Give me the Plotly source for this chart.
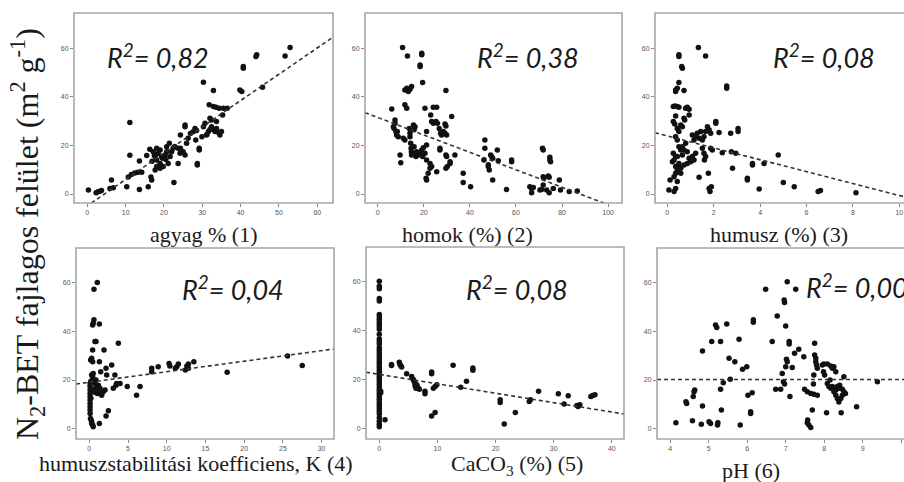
import plotly.graph_objects as go

W, H = 904, 482

# ---------------- data ----------------
agyag_x = [0.3, 2.3, 2.8, 3.3, 3.7, 6.3, 5.9, 6.8, 10.3, 11.1, 11.1, 10.7, 11.5, 12.4, 13.2, 14.2,
           13.6, 13.6, 15.9, 16.8, 16.6, 16.3, 17.2, 18.1, 18.5, 19.0, 17.7, 18.1, 19.0, 18.1, 17.7,
           19.0, 19.8, 19.4, 20.3, 20.7, 21.1, 21.6, 20.7, 22.0, 22.4, 21.4, 22.6, 23.7, 24.2, 24.3,
           25.0, 25.5, 23.7, 24.3, 25.5, 25.5, 26.3, 25.9, 28.1, 28.5, 28.7, 28.7, 29.2, 29.2, 28.3,
           30.3, 30.3, 30.7, 29.9, 31.1, 31.6, 32.0, 32.0, 32.4, 32.9, 31.8, 32.9, 33.6, 34.4, 35.5,
           32.4, 32.9, 33.3, 33.7, 34.2, 34.6, 35.0, 33.7, 35.3, 36.5, 40.3, 39.8, 40.7, 40.7, 44.2,
           44.0, 45.7, 51.6, 52.9, 15.5, 16.9, 17.5, 19.6, 20.5, 22.8, 26.9, 27.6, 31.2]
agyag_y = [1.6, 0.5, 0.9, 1.1, 1.4, 5.8, 2.3, 2.6, 3.0, 29.4, 16.0, 7.0, 8.0, 8.6, 9.0, 9.0,
           1.9, 13.6, 3.0, 5.8, 7.0, 18.4, 17.4, 18.8, 16.7, 18.1, 15.4, 14.0, 12.6, 11.3, 9.9,
           10.6, 11.3, 15.4, 16.1, 19.5, 12.6, 15.4, 17.4, 17.4, 18.8, 20.9, 4.7, 18.8, 16.8, 18.8,
           17.4, 16.1, 12.6, 24.3, 28.4, 27.7, 22.9, 20.9, 27.0, 26.1, 12.6, 11.9, 18.8, 18.1, 22.2,
           46.0, 27.7, 29.1, 23.6, 24.3, 25.7, 26.6, 31.2, 30.5, 42.6, 36.7, 36.0, 35.7, 35.3, 35.3,
           27.7, 26.4, 25.7, 27.0, 25.3, 24.3, 25.7, 29.8, 32.5, 35.3, 42.2, 42.8, 52.5, 51.8, 57.3,
           56.6, 43.9, 56.8, 60.3, 15.8, 13.5, 16.0, 14.7, 14.2, 19.6, 24.9, 25.6, 24.5]

homok_x = [6.1, 6.8, 7.5, 7.1, 7.9, 8.2, 8.5, 8.9, 7.5, 9.7, 10.0, 10.8, 11.1, 11.8, 11.8, 12.6,
           11.8, 12.6, 12.9, 13.3, 14.0, 14.7, 13.7, 14.0, 14.3, 14.5, 14.6, 14.7, 14.0, 15.5, 15.8,
           16.2, 16.2, 16.6, 15.8, 16.9, 17.6, 18.4, 19.1, 19.5, 20.5, 19.8, 21.2, 18.4, 18.4, 19.1,
           19.1, 19.5, 21.2, 20.5, 21.2, 21.0, 21.2, 21.9, 22.7, 23.4, 22.7, 23.0, 23.4, 24.1, 24.1,
           25.6, 25.3, 25.9, 25.6, 26.7, 27.0, 27.0, 27.3, 27.7, 28.5, 29.2, 29.6, 29.6, 29.2, 29.9,
           29.6, 29.9, 29.6, 30.2, 31.4, 31.4, 32.1, 33.5, 37.1, 37.1, 40.3, 46.1, 46.5, 46.5, 48.0,
           48.4, 48.0, 49.0, 49.4, 49.9, 49.9, 51.9, 52.3, 55.9, 58.1, 58.1, 66.0, 66.8, 67.5, 66.8,
           70.4, 71.1, 71.8, 71.8, 72.1, 71.5, 71.8, 73.3, 74.0, 74.4, 74.7, 74.7, 75.0, 74.4, 76.2,
           78.8, 79.3, 83.1, 86.6]
homok_y = [35.0, 27.7, 29.1, 27.0, 25.7, 24.3, 25.7, 23.6, 30.5, 16.1, 12.9, 60.3, 22.9, 22.2, 36.7, 35.3,
           42.8, 43.5, 56.8, 42.2, 43.1, 44.2, 27.0, 25.0, 20.9, 18.8, 17.4, 16.1, 23.6, 28.4, 26.4,
           27.7, 16.8, 15.4, 19.5, 17.4, 16.1, 16.8, 18.1, 15.4, 16.8, 19.0, 14.0, 52.5, 53.1, 57.3,
           57.9, 45.9, 20.2, 35.3, 25.7, 6.5, 5.8, 8.5, 12.6, 11.3, 10.6, 32.5, 29.8, 29.1, 35.7,
           35.7, 29.8, 29.1, 9.2, 27.0, 18.8, 18.1, 25.0, 24.3, 25.7, 28.8, 28.0, 42.6, 25.0, 24.3,
           16.1, 15.4, 10.6, 11.3, 12.6, 13.3, 31.9, 16.1, 8.5, 4.7, 3.0, 14.0, 22.2, 18.8, 11.3,
           9.9, 12.0, 16.1, 15.4, 14.7, 5.8, 18.1, 13.7, 1.9, 13.3, 14.0, 3.0, 2.3, 2.7, 0.5,
           1.6, 1.9, 3.7, 7.1, 6.5, 18.8, 18.1, 1.6, 7.4, 6.9, 15.1, 14.0, 13.3, 0.5, 2.3,
           5.8, 1.6, 1.0, 1.2]

humusz_x = [0.12, 0.07, 0.22, 0.29, 0.36, 0.26, 0.26, 0.33, 0.43, 0.50, 0.36, 0.36, 0.43, 0.50, 0.36,
            0.50, 0.50, 0.62, 0.65, 0.72, 0.26, 0.32, 0.43, 0.50, 0.58, 0.65, 0.72, 0.75, 0.79, 0.86,
            0.94, 0.94, 0.36, 0.43, 0.50, 0.58, 0.65, 0.43, 0.50, 0.36, 0.43, 0.36, 0.29, 0.50, 0.58,
            0.65, 0.72, 0.79, 0.86, 0.94, 1.01, 1.08, 1.15, 1.22, 0.86, 0.72, 0.58, 0.43, 0.36, 0.29,
            1.08, 1.15, 1.22, 1.29, 1.37, 1.44, 1.51, 1.34, 1.37, 1.65, 1.51, 1.58, 1.65, 1.60, 1.58,
            1.65, 1.73, 1.80, 1.87, 1.77, 1.80, 1.84, 1.90, 1.87, 1.94, 2.09, 2.09, 2.23, 2.37, 2.56,
            2.56, 2.73, 2.76, 2.81, 2.95, 3.05, 3.05, 3.45, 3.45, 3.67, 3.67, 3.96, 4.17, 4.78, 5.00,
            5.47, 6.50, 6.60, 8.13]
humusz_y = [5.8, 1.6, 13.3, 14.0, 15.4, 16.8, 36.0, 36.2, 36.0, 35.7, 32.1, 42.8, 43.5, 45.9, 42.2,
            57.3, 56.6, 52.5, 51.8, 42.6, 29.8, 28.8, 27.0, 25.7, 28.4, 27.7, 31.2, 30.5, 35.3, 35.7,
            34.9, 32.5, 23.6, 22.2, 19.5, 18.1, 16.1, 15.4, 11.3, 11.3, 9.9, 8.5, 7.1, 12.6, 10.6,
            19.5, 18.1, 20.9, 17.4, 14.7, 13.3, 15.4, 14.0, 16.8, 12.6, 11.9, 8.5, 5.1, 2.3, 1.0,
            24.3, 22.2, 23.6, 25.0, 22.9, 25.7, 22.2, 60.3, 6.9, 56.8, 18.8, 16.8, 15.4, 14.0, 23.6,
            25.7, 27.7, 26.4, 25.0, 8.5, 2.3, 1.0, 3.0, 18.8, 18.1, 29.8, 29.1, 25.3, 17.0, 44.5,
            43.5, 25.0, 17.4, 10.6, 16.8, 27.0, 25.7, 6.5, 5.8, 12.6, 11.9, 2.1, 12.6, 16.1, 4.7,
            3.0, 1.0, 1.4, 0.5]

hstab_x = [0.1, 0.1, 0.1, 0.1, 0.1, 0.1, 0.1, 0.1, 0.1, 0.1, 0.15, 0.3, 0.43, 0.5, 0.3,
           0.17, 0.3, 0.43, 0.43, 0.5, 0.6, 0.43, 0.6, 1.03, 1.3, 0.73, 0.86, 0.3, 0.43, 0.5,
           0.73, 0.95, 1.16, 1.38, 0.5, 0.86, 1.03, 1.3, 1.6, 1.8, 1.3, 1.47, 1.3, 1.9, 2.03,
           2.16, 2.24, 2.16, 2.46, 2.89, 3.1, 3.3, 3.45, 3.53, 3.75, 3.97, 4.9, 6.1, 6.55, 8.06,
           8.06, 8.9, 10.3, 10.4, 11.1, 11.3, 11.5, 12.4, 12.6, 12.8, 12.8, 13.5, 17.8, 25.6, 27.5,
           0.2, 0.2, 0.2, 0.25, 0.6, 0.7, 0.9]
hstab_y = [18.6, 17.3, 15.9, 14.5, 13.2, 11.8, 10.4, 9.0, 7.7, 6.3, 4.2, 2.9, 1.5, 0.8, 2.2,
           28.2, 28.9, 27.5, 32.3, 43.3, 44.7, 42.6, 57.3, 60.0, 43.0, 35.8, 35.8, 22.1, 21.4, 20.0,
           18.6, 17.3, 17.9, 16.6, 22.7, 20.0, 14.5, 14.5, 13.8, 15.2, 27.5, 23.4, 2.2, 32.3, 15.9,
           24.8, 22.1, 5.2, 7.4, 26.2, 16.6, 22.1, 17.9, 18.6, 35.1, 18.6, 17.3, 13.8, 17.3, 24.8,
           23.4, 25.5, 26.8, 25.8, 24.8, 25.5, 26.6, 24.1, 25.8, 26.6, 24.8, 27.5, 23.2, 29.9, 26.0,
           19.5, 16.5, 12.5, 3.5, 16.2, 15.0, 16.0]

caco3_x = [0.0] * 48 + [0.23, 0.23, 0.98, 2.1, 2.1, 3.44, 3.56, 3.67, 3.84, 4.7, 5.56, 5.85, 5.97,
                        6.14, 6.43, 6.54, 6.7, 6.3, 6.9, 6.14, 7.86, 7.86, 9.0, 9.6, 9.0, 9.0, 9.3,
                        9.6, 9.9, 12.7, 14.0, 15.0, 16.1, 16.1, 20.8, 20.8, 21.5, 23.4, 25.8, 26.0,
                        27.4, 30.8, 31.8, 32.5, 34.0, 34.2, 34.5, 36.4, 36.7, 37.1]
caco3_y = [60, 58, 57, 53, 52, 46.5, 45.5, 44.5, 43.5, 42.5, 41.5, 40.5, 38.5, 36.5, 35.5, 34.5,
           33, 32, 31, 30, 29, 28, 27, 26, 25, 24, 23, 22, 21, 20, 19, 18, 17, 16, 15, 14, 13, 12,
           11, 10, 9, 8, 7, 6, 4.5, 3, 1.8, 0.8] + [15.2, 14.5, 3.6, 26.1, 25.7, 27.1, 26.1, 25.7,
                                                     25.1, 22.4, 21.3, 20.0, 19.3, 18.6, 17.9, 17.2,
                                                     16.5, 16.5, 16.1, 17.5, 15.2, 14.2, 5.2, 6.6,
                                                     23.1, 22.4, 16.5, 17.2, 17.9, 25.8, 16.9, 19.3,
                                                     24.7, 23.8, 11.8, 10.7, 1.9, 6.6, 11.1, 11.8,
                                                     15.2, 14.2, 10.1, 13.4, 9.4, 9.0, 9.7, 13.1,
                                                     13.5, 13.8]

ph_x = [4.15, 4.41, 4.43, 4.58, 4.60, 4.62, 4.64, 4.81, 4.84, 4.84, 5.01, 5.05, 5.08, 5.18, 5.21,
        5.23, 5.24, 5.31, 5.31, 5.33, 5.38, 5.47, 5.53, 5.56, 5.68, 5.79, 5.82, 5.88, 5.99, 6.02,
        6.09, 6.09, 6.13, 6.16, 6.16, 6.48, 6.65, 6.74, 6.78, 6.87, 6.91, 6.94, 6.96, 6.97, 6.97,
        7.00, 7.00, 7.04, 7.02, 7.04, 7.09, 7.09, 7.11, 7.17, 7.23, 7.26, 7.34, 7.47, 7.49, 7.56,
        7.65, 7.73, 7.82, 7.56, 7.60, 7.65, 7.57, 7.69, 7.72, 7.73, 7.75, 7.75, 7.78, 7.78, 7.80,
        7.82, 7.95, 7.99, 8.08, 8.17, 7.98, 8.01, 8.06, 8.08, 8.12, 8.17, 8.21, 8.25, 8.30, 8.34,
        8.38, 8.47, 8.25, 8.30, 8.34, 8.38, 8.43, 8.47, 8.51, 8.55, 8.21, 8.25, 8.30, 8.44, 8.51,
        8.84, 9.38, 8.15, 8.40]
ph_y = [2.5, 11.1, 10.4, 3.3, 13.2, 15.2, 15.9, 1.9, 9.3, 31.9, 2.9, 2.2, 35.8, 42.6, 41.6,
        1.5, 2.5, 35.8, 16.2, 7.7, 18.9, 43.0, 28.9, 20.3, 27.5, 36.7, 1.5, 24.4, 25.5, 13.8,
        7.0, 6.3, 14.8, 44.7, 43.7, 57.3, 35.8, 16.2, 46.3, 16.2, 22.7, 19.3, 52.9, 51.8, 18.4,
        42.2, 25.5, 27.5, 28.5, 60.3, 35.8, 34.8, 13.2, 25.2, 31.0, 57.3, 32.6, 29.6, 16.2, 15.2,
        14.5, 14.2, 13.8, 2.5, 1.5, 0.5, 3.6, 7.7, 18.4, 22.1, 35.1, 30.3, 28.9, 27.5, 26.2,
        24.8, 26.2, 26.6, 26.6, 25.8, 23.4, 22.1, 6.6, 18.6, 17.3, 16.6, 17.3, 16.6, 15.9, 17.3,
        16.6, 16.2, 15.2, 13.8, 12.4, 11.0, 12.4, 13.8, 15.2, 14.5, 24.8, 25.5, 23.4, 6.6, 21.4,
        9.0, 19.3, 20.0, 17.9]

# linear trend lines (slope, intercept) and R^2 labels
trend_slope = [1.083, -0.359, -2.45, 0.432, -0.383, 0.0]
trend_icept = [-4.85, 31.5, 23.9, 19.1, 22.1, 20.2]
r2_labels = ["0,82", "0,38", "0,08", "0,04", "0,08", "0,00"]
x_titles = ["agyag % (1)", "homok (%) (2)", "humusz (%) (3)",
            "humuszstabilitási koefficiens, K (4)", "CaCO<sub>3</sub> (%) (5)", "pH (6)"]
y_title = "N<sub>2</sub>-BET fajlagos felület (m<sup>2</sup> g<sup>-1</sup>)"
y_ticks = [0, 20, 40, 60]
x_ticks = [[0, 10, 20, 30, 40, 50, 60], [0, 20, 40, 60, 80, 100], [0, 2, 4, 6, 8, 10],
           [0, 5, 10, 15, 20, 25, 30], [0, 10, 20, 30, 40], [4, 5, 6, 7, 8, 9, 10]]

series_x = [agyag_x, homok_x, humusz_x, hstab_x, caco3_x, ph_x]
series_y = [agyag_y, homok_y, humusz_y, hstab_y, caco3_y, ph_y]

# ---------------- layout geometry (pixels) ----------------
frames = [(74, 333, 13, 203), (365, 622, 13, 203), (655, 912, 13, 203),
          (76, 334, 248, 439), (366, 624, 247, 439), (657, 912, 248, 439)]
x_ranges = [[-3.47, 64.1], [-5.51, 106.0], [-0.53, 10.2], [-1.72, 31.6], [-2.29, 42.1], [3.66, 10.07]]
y_ranges = [[-3.7, 74.5], [-3.7, 74.5], [-3.7, 74.5], [-4.2, 74.2], [-4.2, 74.0], [-4.2, 74.2]]
r2_pos = [(105, 56), (475, 56), (771, 56), (180, 288), (464, 288), (804, 286)]
xt_pos = [(204, 234), (467, 234), (779, 234), (196, 463), (517, 465), (751, 470)]


def fx(p):
    return p / W


def fy(p):
    return 1 - p / H


fig = go.Figure()
shapes, annotations = [], []
for i in range(6):
    n = "" if i == 0 else str(i + 1)
    x0, x1, y0, y1 = frames[i]
    dom_x = [fx(x0), min(1.0, fx(x1))]
    dom_y = [fy(y1), fy(y0)]
    fig.add_trace(go.Scatter(x=series_x[i], y=series_y[i], mode="markers",
                             marker=dict(color="#111111", size=5.5, line=dict(width=0)),
                             xaxis="x" + n, yaxis="y" + n, showlegend=False, hoverinfo="skip"))
    xr = x_ranges[i]
    fig.add_trace(go.Scatter(x=[xr[0], xr[1]],
                             y=[trend_icept[i] + trend_slope[i] * xr[0], trend_icept[i] + trend_slope[i] * xr[1]],
                             mode="lines", line=dict(color="#333333", width=1.6, dash="4px,3px"),
                             xaxis="x" + n, yaxis="y" + n, showlegend=False, hoverinfo="skip"))
    axis_common = dict(ticks="outside", ticklen=3, tickwidth=1, tickcolor="#8a8a8a",
                       showgrid=False, zeroline=False, showline=False,
                       tickfont=dict(size=7, color="#555555", family="Liberation Sans"))
    fig.update_layout(**{
        "xaxis" + n: dict(domain=dom_x, range=xr, tickvals=x_ticks[i], anchor="y" + n, **axis_common),
        "yaxis" + n: dict(domain=dom_y, range=y_ranges[i], tickvals=y_ticks, anchor="x" + n, **axis_common),
    })
    shapes.append(dict(type="rect", xref="paper", yref="paper", x0=fx(x0), x1=fx(x1),
                       y0=fy(y1), y1=fy(y0), line=dict(color="#a6a6a6", width=1.6), layer="above"))
    rx, ry = r2_pos[i]
    annotations.append(dict(xref="paper", yref="paper", x=fx(rx), y=fy(ry), xanchor="left", yanchor="middle",
                            text="<i>R<sup>2</sup>= " + r2_labels[i] + "</i>", showarrow=False,
                            font=dict(family="Lato", size=27, color="#1a1a1a")))
    tx, ty = xt_pos[i]
    annotations.append(dict(xref="paper", yref="paper", x=fx(tx), y=fy(ty), xanchor="center", yanchor="middle",
                            text=x_titles[i], showarrow=False,
                            font=dict(family="Liberation Serif", size=22, color="#1a1a1a")))

annotations.append(dict(xref="paper", yref="paper", x=fx(27), y=fy(234), xanchor="center", yanchor="middle",
                        text=y_title, textangle=-90, showarrow=False,
                        font=dict(family="Liberation Serif", size=32, color="#1a1a1a")))

fig.update_layout(width=W, height=H, margin=dict(l=0, r=0, t=0, b=0),
                  paper_bgcolor="white", plot_bgcolor="white",
                  shapes=shapes, annotations=annotations, showlegend=False)

fig.write_html("out.html", config={"displayModeBar": False, "staticPlot": True},
               post_script="document.body.style.margin='0';document.body.style.overflow='hidden';")
